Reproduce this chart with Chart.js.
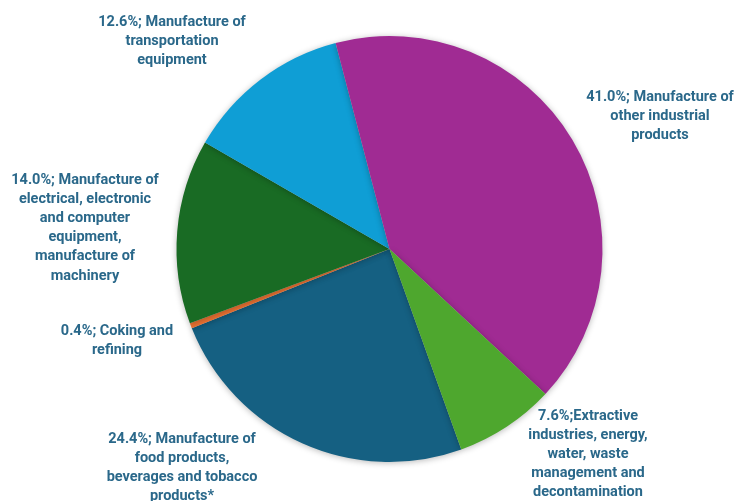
<!DOCTYPE html>
<html lang="en">
<head>
<meta charset="UTF-8">
<title>Industry shares</title>
<script src="https://cdn.jsdelivr.net/npm/chart.js"></script>
<style>
  html, body { margin: 0; padding: 0; background: #fff; }
  #wrap { width: 740px; height: 501px; position: relative; }
</style>
</head>
<body>
<div id="wrap"><canvas id="pie"></canvas></div>
<script>
// data
const categories = [
  'Manufacture of food products, beverages and tobacco products*',
  'Coking and refining',
  'Manufacture of electrical, electronic and computer equipment, manufacture of machinery',
  'Manufacture of transportation equipment',
  'Manufacture of other industrial products',
  'Extractive industries, energy, water, waste management and decontamination'
];
const shares = [24.4, 0.4, 14.0, 12.6, 41.0, 7.6];
const labelLines = [
  ['24.4%; Manufacture of', 'food products,', 'beverages and tobacco', 'products*'],
  ['0.4%; Coking and', 'refining'],
  ['14.0%; Manufacture of', 'electrical, electronic', 'and computer', 'equipment,', 'manufacture of', 'machinery'],
  ['12.6%; Manufacture of', 'transportation', 'equipment'],
  ['41.0%; Manufacture of', 'other industrial', 'products'],
  ['7.6%;Extractive', 'industries, energy,', 'water, waste', 'management and', 'decontamination']
];
const colors = ['#156082', '#E97132', '#196B24', '#0F9ED5', '#A02B93', '#4EA72E'];

// label placement (center of first line), layout only
const labelAt = [[182, 439], [117, 331], [85, 180], [172, 22], [660, 97], [588, 416]];

const shadowPlugin = {
  id: 'shadow',
  beforeDatasetDraw(chart) {
    const c = chart.ctx;
    c.save();
    c.shadowColor = 'rgba(0,0,0,0.28)';
    c.shadowBlur = 6;
    c.shadowOffsetX = 0;
    c.shadowOffsetY = 1;
  },
  afterDatasetDraw(chart) {
    chart.ctx.restore();
  }
};

const labelPlugin = {
  id: 'sliceLabels',
  afterDraw(chart) {
    const c = chart.ctx;
    c.save();
    c.font = 'bold 14.5px Roboto, "DejaVu Sans", sans-serif';
    c.fillStyle = '#2a688a';
    c.textAlign = 'center';
    c.textBaseline = 'middle';
    labelLines.forEach((lines, i) => {
      const [x, y] = labelAt[i];
      lines.forEach((t, j) => c.fillText(t, x, y + j * 19.2));
    });
    c.restore();
  }
};

new Chart(document.getElementById('pie'), {
  type: 'pie',
  data: {
    labels: categories,
    datasets: [{
      data: shares,
      backgroundColor: colors,
      borderWidth: 0
    }]
  },
  options: {
    responsive: true,
    maintainAspectRatio: false,
    animation: false,
    rotation: 160.3,
    layout: { padding: { left: 176, right: 137, top: 36, bottom: 39 } },
    plugins: {
      legend: { display: false },
      tooltip: { enabled: false }
    }
  },
  plugins: [shadowPlugin, labelPlugin]
});
</script>
</body>
</html>
